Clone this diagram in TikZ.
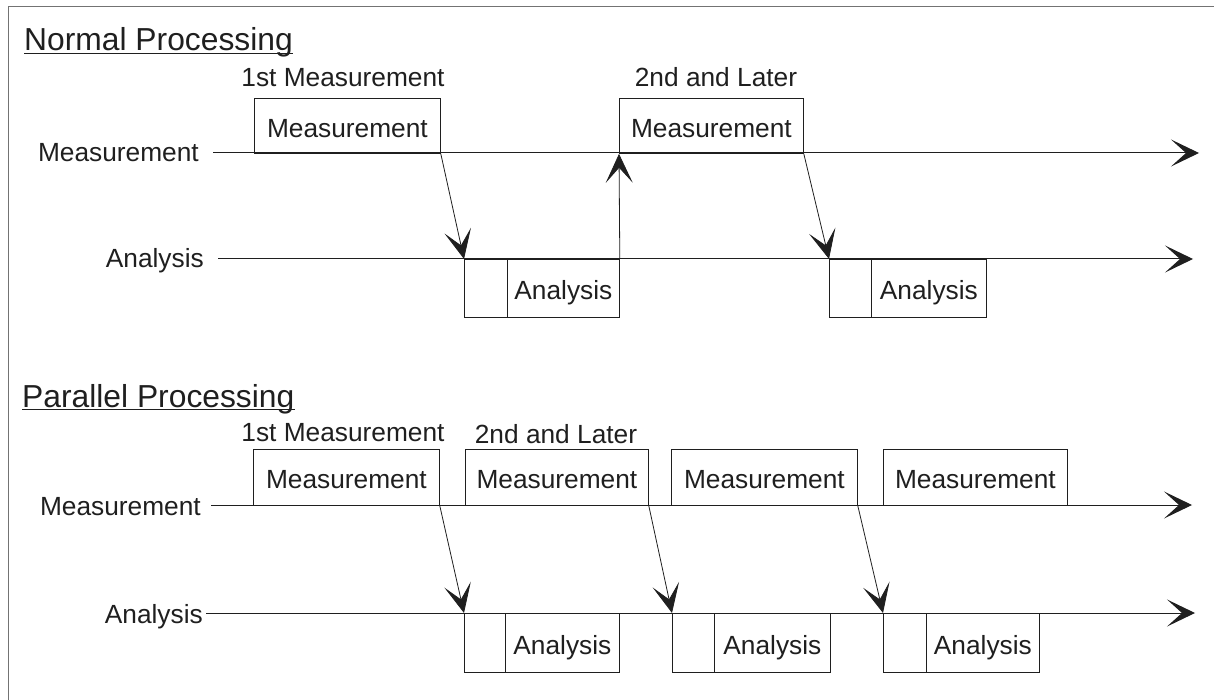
\documentclass[tikz,border=0pt]{standalone}
\usepackage{fontspec}
\setmainfont{Liberation Sans}
\usetikzlibrary{arrows.meta}
\definecolor{ink}{gray}{0.12}
\newcommand{\lblfont}{\fontsize{26.3}{30}\selectfont}
\newcommand{\ttlfont}{\fontsize{31.8}{36}\selectfont}
\begin{document}
\begin{tikzpicture}[x=1pt,y=-1pt,
  lbl/.style={inner sep=0pt, font=\lblfont, text=ink},
  ttl/.style={inner sep=0pt, font=\ttlfont, anchor=base west, text=ink},
  mbox/.style={draw=ink, line width=0.8pt, inner sep=0pt, anchor=north west,
     text height=23pt, text depth=0pt, font=\lblfont, text=ink},
  tline/.style={draw=ink, line width=1pt, -{Stealth[length=28pt,width=27pt,inset=15pt]}},
  hand/.style={draw=ink, line width=0.8pt, -{Stealth[length=29pt,width=27pt,inset=15pt]}},
  frame/.style={draw=black!55, line width=0.8pt}
]
\path[use as bounding box] (0,0) rectangle (1214,700);
\draw[frame] (8,700) -- (8,6) -- (1214,6);

% ================= Normal Processing =================
\node[ttl] (t1) at (24,51) {Normal Processing};
\draw[ink, line width=1pt] ([yshift=-2.5pt]t1.base west) -- ([yshift=-2.5pt]t1.base east);

\node[lbl, anchor=base east] (lm1) at (199,162) {Measurement};
\node[lbl, anchor=base east] (la1) at (204,268) {Analysis};
\coordinate (m1s) at (213,153);
\coordinate (m1e) at (1199,153);
\coordinate (a1s) at (218,259);
\coordinate (a1e) at (1193,259);
\draw[tline] (m1s) -- (m1e);
\draw[tline] (a1s) -- (a1e);

\node[lbl, anchor=base] (c11) at (343,87) {1st Measurement};
\node[lbl, anchor=base] (c12) at (716,87) {2nd and Later};

\node[mbox, minimum width=186pt, minimum height=55pt] (nm1) at (254,98) {Measurement};
\node[mbox, minimum width=184pt, minimum height=55pt] (nm2) at (619,98) {Measurement};

\node[mbox, minimum width=43pt, minimum height=58pt] (na1l) at (464,259) {};
\node[mbox, minimum width=112pt, minimum height=58pt] (na1r) at (507,259) {Analysis};
\node[mbox, minimum width=42pt, minimum height=58pt] (na2l) at (829,259) {};
\node[mbox, minimum width=115pt, minimum height=58pt] (na2r) at (871,259) {Analysis};

\draw[hand] (nm1.south east) -- (na1l.north west);
\draw[hand] (na1r.north east) -- (nm2.south west);
\draw[hand] (nm2.south east) -- (na2l.north west);

% ================= Parallel Processing =================
\node[ttl] (t2) at (22,407) {Parallel Processing};
\draw[ink, line width=1pt] ([yshift=-2.5pt]t2.base west) -- ([yshift=-2.5pt]t2.base east);

\node[lbl, anchor=base east] (lm2) at (201,515) {Measurement};
\node[lbl, anchor=base east] (la2) at (203,623) {Analysis};
\coordinate (m2s) at (211,505);
\coordinate (m2e) at (1192,505);
\coordinate (a2s) at (206,613);
\coordinate (a2e) at (1195,613);
\draw[tline] (m2s) -- (m2e);
\draw[tline] (a2s) -- (a2e);

\node[lbl, anchor=base] (c21) at (343,441) {1st Measurement};
\node[lbl, anchor=base] (c22) at (556,443) {2nd and Later};

\node[mbox, minimum width=186pt, minimum height=56pt] (pmA) at (253,449) {Measurement};
\node[mbox, minimum width=183pt, minimum height=56pt] (pmB) at (465,449) {Measurement};
\node[mbox, minimum width=186pt, minimum height=56pt] (pmC) at (671,449) {Measurement};
\node[mbox, minimum width=184pt, minimum height=56pt] (pmD) at (883,449) {Measurement};

\node[mbox, minimum width=41pt, minimum height=59pt] (paAl) at (464,613) {};
\node[mbox, minimum width=114pt, minimum height=59pt] (paAr) at (505,613) {Analysis};
\node[mbox, minimum width=42pt, minimum height=59pt] (paBl) at (672,613) {};
\node[mbox, minimum width=116pt, minimum height=59pt] (paBr) at (714,613) {Analysis};
\node[mbox, minimum width=43pt, minimum height=59pt] (paCl) at (883,613) {};
\node[mbox, minimum width=113pt, minimum height=59pt] (paCr) at (926,613) {Analysis};

\draw[hand] (pmA.south east) -- (paAl.north west);
\draw[hand] (pmB.south east) -- (paBl.north west);
\draw[hand] (pmC.south east) -- (paCl.north west);
\end{tikzpicture}
\end{document}
